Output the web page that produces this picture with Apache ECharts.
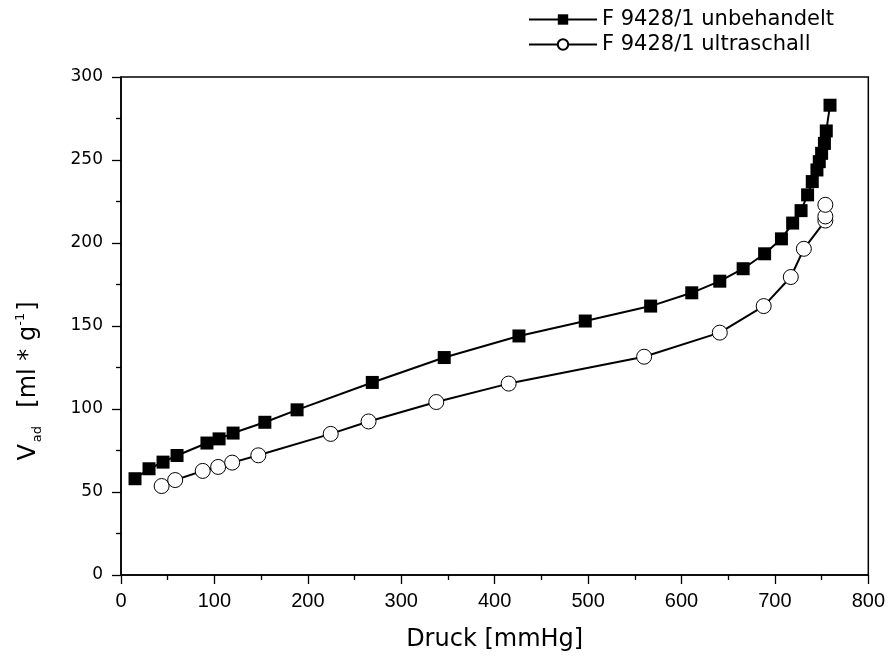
<!DOCTYPE html>
<html>
<head>
<meta charset="utf-8">
<script src="https://cdn.jsdelivr.net/npm/echarts@6/dist/echarts.min.js"></script>
<style>html,body{margin:0;padding:0;background:#fff}#c{width:888px;height:659px}</style>
</head>
<body>
<div id="c"></div>
<script>
const seriesNames = ['F 9428/1 unbehandelt', 'F 9428/1 ultraschall'];
const untreatedX = [15, 30, 45, 60, 92, 105, 120, 154, 188.5, 269, 346, 426, 497, 567, 611, 641, 666, 689, 707, 719, 728, 735, 740, 745, 747.5, 750, 753, 755, 759];
const untreatedY = [58, 64, 68, 72, 79.5, 82, 85.5, 92, 99.5, 116, 131, 144, 153, 162, 170, 177, 184.5, 193.5, 202.5, 212, 219.5, 229, 237, 244, 249, 254, 260, 267.5, 283];
const ultraX = [43.5, 58, 87.5, 104, 119, 147, 224.5, 265, 337.5, 415, 560, 641, 688, 717, 731, 754, 754, 754];
const ultraY = [53.6, 57.2, 62.7, 65.1, 67.7, 72.1, 85, 92.5, 104.2, 115.3, 131.5, 146, 162, 179.5, 196.5, 213.5, 216, 223];
const xTitle = 'Druck [mmHg]';

const pair = (xs, ys) => xs.map((x, i) => [x, ys[i]]);
const arial = '"Liberation Sans", Arial, sans-serif';
const wide = '"DejaVu Sans", sans-serif';

const chart = echarts.init(document.getElementById('c'), null, {renderer: 'canvas'});
chart.setOption({
  animation: false,
  backgroundColor: '#fff',
  grid: {left: 121, right: 18, top: 77, bottom: 84, show: true, borderColor: '#000', borderWidth: 1.5, backgroundColor: 'transparent'},
  legend: {
    orient: 'vertical', left: 523, top: 4, itemWidth: 68, itemHeight: 13, itemGap: 4,
    textStyle: {fontFamily: wide, fontSize: 21, color: '#000', lineHeight: 21},
    data: seriesNames
  },
  xAxis: {
    type: 'value', min: 0, max: 800, interval: 100,
    name: xTitle, nameLocation: 'middle', nameGap: 53,
    nameTextStyle: {fontFamily: wide, fontSize: 24, color: '#000'},
    axisLine: {onZero: false, lineStyle: {color: '#000', width: 1.5}},
    axisTick: {show: true, inside: false, length: 9, lineStyle: {color: '#000', width: 1.3}},
    minorTick: {show: true, splitNumber: 2, length: 5, lineStyle: {color: '#000', width: 1.3}},
    axisLabel: {fontFamily: arial, fontSize: 20, color: '#000', margin: 16},
    splitLine: {show: false}
  },
  yAxis: {
    type: 'value', min: 0, max: 300, interval: 50,
    axisLine: {onZero: false, lineStyle: {color: '#000', width: 1.5}},
    axisTick: {show: true, inside: false, length: 9, lineStyle: {color: '#000', width: 1.3}},
    minorTick: {show: true, splitNumber: 2, length: 5, lineStyle: {color: '#000', width: 1.3}},
    axisLabel: {fontFamily: wide, fontSize: 17, color: '#000', margin: 18},
    splitLine: {show: false}
  },
  graphic: [{
    type: 'text', x: 29, y: 381, rotation: Math.PI / 2,
    style: {
      text: '{v|V}{s|ad}{v|  [ml * g}{p|-1}{v|]}',
      fontFamily: wide, align: 'center', verticalAlign: 'middle', fill: '#000',
      rich: {
        v: {fontSize: 24, fontFamily: wide, fill: '#000', lineHeight: 30, verticalAlign: 'middle'},
        s: {fontSize: 13, fontFamily: wide, fill: '#000', lineHeight: 30, verticalAlign: 'bottom', padding: [0, 3, 0, 2]},
        p: {fontSize: 13, fontFamily: wide, fill: '#000', lineHeight: 30, verticalAlign: 'top', padding: [0, 2, 0, 0]}
      }
    }
  }],
  series: [{
    name: seriesNames[0], type: 'line', data: pair(untreatedX, untreatedY),
    symbol: 'rect', symbolSize: 13, showAllSymbol: true,
    lineStyle: {color: '#000', width: 2},
    itemStyle: {color: '#000', borderColor: '#000', borderWidth: 0},
    z: 3
  }, {
    name: seriesNames[1], type: 'line', data: pair(ultraX, ultraY),
    symbol: 'circle', symbolSize: 15, showAllSymbol: true,
    lineStyle: {color: '#000', width: 2},
    itemStyle: {color: '#fff', borderColor: '#000', borderWidth: 1},
    z: 4
  }]
});
</script>
</body>
</html>
